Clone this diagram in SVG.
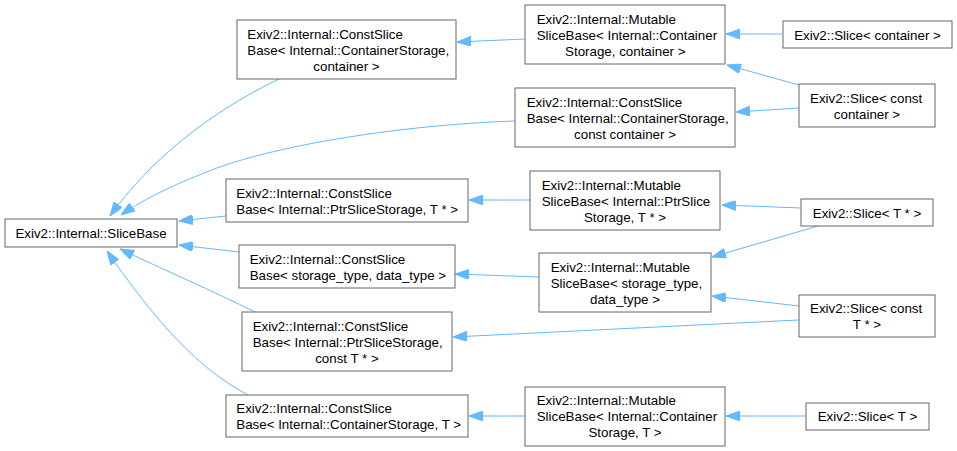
<svg xmlns="http://www.w3.org/2000/svg" width="957" height="451" viewBox="0 0 957 451">
<style>
.n rect{fill:#fff;stroke:#666;stroke-width:1}
.n text{font-family:"Liberation Sans",Arial,sans-serif;font-size:13.33px;fill:#000}
.c{text-anchor:middle}
.e path{fill:none;stroke:#63b8ff;stroke-width:1;marker-end:url(#ah)}
</style>
<defs>
<marker id="ah" viewBox="0 0 14 10" refX="14" refY="5" markerWidth="14" markerHeight="10" markerUnits="userSpaceOnUse" orient="auto">
<path d="M0,0 L14,5 L0,10 z" fill="#63b8ff" stroke="#63b8ff" stroke-width="1"/>
</marker>
</defs>
<rect width="957" height="451" fill="#fff"/>
<g id="edges" class="e">
<path d="M525,39 L457,42"/>
<path d="M782,34 L726,34"/>
<path d="M799,85 L727,65"/>
<path d="M799,108 L736,112"/>
<path d="M515,121 C400,125 280,145 217,168 C180,182 145,198 121,215"/>
<path d="M279,79 C210,112 150,160 110,216"/>
<path d="M226,216 L179,221"/>
<path d="M530,200 L469,200"/>
<path d="M801,208 L722,205"/>
<path d="M818,226 L712,257"/>
<path d="M799,306 L712,296"/>
<path d="M799,320 L453,337"/>
<path d="M539,277 L455,274"/>
<path d="M239,252 L179,245"/>
<path d="M255,312 C215,292 160,268 120,249"/>
<path d="M248,395 C205,372 165,335 107,251"/>
<path d="M525,416 L469,416"/>
<path d="M806,416 L726,416"/>
</g>
<g id="SliceBase" class="n"><rect x="5" y="219" width="172" height="28"/><text x="91" y="237.5" class="c">Exiv2::Internal::SliceBase</text></g>
<g id="CS1" class="n"><rect x="237" y="20" width="219" height="59"/><text x="247.3" y="38.5">Exiv2::Internal::ConstSlice</text><text x="247.3" y="54.5">Base&lt; Internal::ContainerStorage,</text><text x="346.5" y="70.5" class="c">container &gt;</text></g>
<g id="MS1" class="n"><rect x="525" y="5" width="200" height="59"/><text x="536.7" y="23.5">Exiv2::Internal::Mutable</text><text x="536.7" y="39.5">SliceBase&lt; Internal::Container</text><text x="625.3" y="55.5" class="c">Storage, container &gt;</text></g>
<g id="SliceContainer" class="n"><rect x="783" y="21" width="169" height="27"/><text x="867.5" y="39.5" class="c">Exiv2::Slice&lt; container &gt;</text></g>
<g id="SliceConstContainer" class="n"><rect x="799" y="84" width="136" height="43"/><text x="810" y="102.5">Exiv2::Slice&lt; const</text><text x="867" y="118.5" class="c">container &gt;</text></g>
<g id="CS2" class="n"><rect x="515" y="88" width="220" height="59"/><text x="526.7" y="106.5">Exiv2::Internal::ConstSlice</text><text x="526.7" y="122.5">Base&lt; Internal::ContainerStorage,</text><text x="625" y="138.5" class="c">const container &gt;</text></g>
<g id="CS3" class="n"><rect x="226" y="179" width="242" height="43"/><text x="236.3" y="197.5">Exiv2::Internal::ConstSlice</text><text x="236.3" y="213.5">Base&lt; Internal::PtrSliceStorage, T * &gt;</text></g>
<g id="MS2" class="n"><rect x="530" y="171" width="190" height="59"/><text x="541.7" y="189.5">Exiv2::Internal::Mutable</text><text x="541.7" y="205.5">SliceBase&lt; Internal::PtrSlice</text><text x="625" y="221.5" class="c">Storage, T * &gt;</text></g>
<g id="SliceTPtr" class="n"><rect x="801" y="199" width="132" height="27"/><text x="867" y="217.5" class="c">Exiv2::Slice&lt; T * &gt;</text></g>
<g id="CS4" class="n"><rect x="239" y="245" width="216" height="43"/><text x="249.7" y="263.5">Exiv2::Internal::ConstSlice</text><text x="249.7" y="279.5">Base&lt; storage_type, data_type &gt;</text></g>
<g id="MS3" class="n"><rect x="539" y="253" width="172" height="59"/><text x="550.7" y="271.5">Exiv2::Internal::Mutable</text><text x="550.7" y="287.5">SliceBase&lt; storage_type,</text><text x="625" y="303.5" class="c">data_type &gt;</text></g>
<g id="SliceConstTPtr" class="n"><rect x="799" y="295" width="136" height="42"/><text x="810" y="313">Exiv2::Slice&lt; const</text><text x="867" y="329" class="c">T * &gt;</text></g>
<g id="CS5" class="n"><rect x="242" y="312" width="210" height="59"/><text x="252.7" y="330.5">Exiv2::Internal::ConstSlice</text><text x="252.7" y="346.5">Base&lt; Internal::PtrSliceStorage,</text><text x="347" y="362.5" class="c">const T * &gt;</text></g>
<g id="CS6" class="n"><rect x="226" y="395" width="242" height="42"/><text x="236.3" y="413">Exiv2::Internal::ConstSlice</text><text x="236.3" y="429">Base&lt; Internal::ContainerStorage, T &gt;</text></g>
<g id="MS4" class="n"><rect x="525" y="387" width="200" height="59"/><text x="536.7" y="405">Exiv2::Internal::Mutable</text><text x="536.7" y="421">SliceBase&lt; Internal::Container</text><text x="625" y="437" class="c">Storage, T &gt;</text></g>
<g id="SliceT" class="n"><rect x="806" y="403" width="123" height="27"/><text x="867.5" y="421" class="c">Exiv2::Slice&lt; T &gt;</text></g>
</svg>
